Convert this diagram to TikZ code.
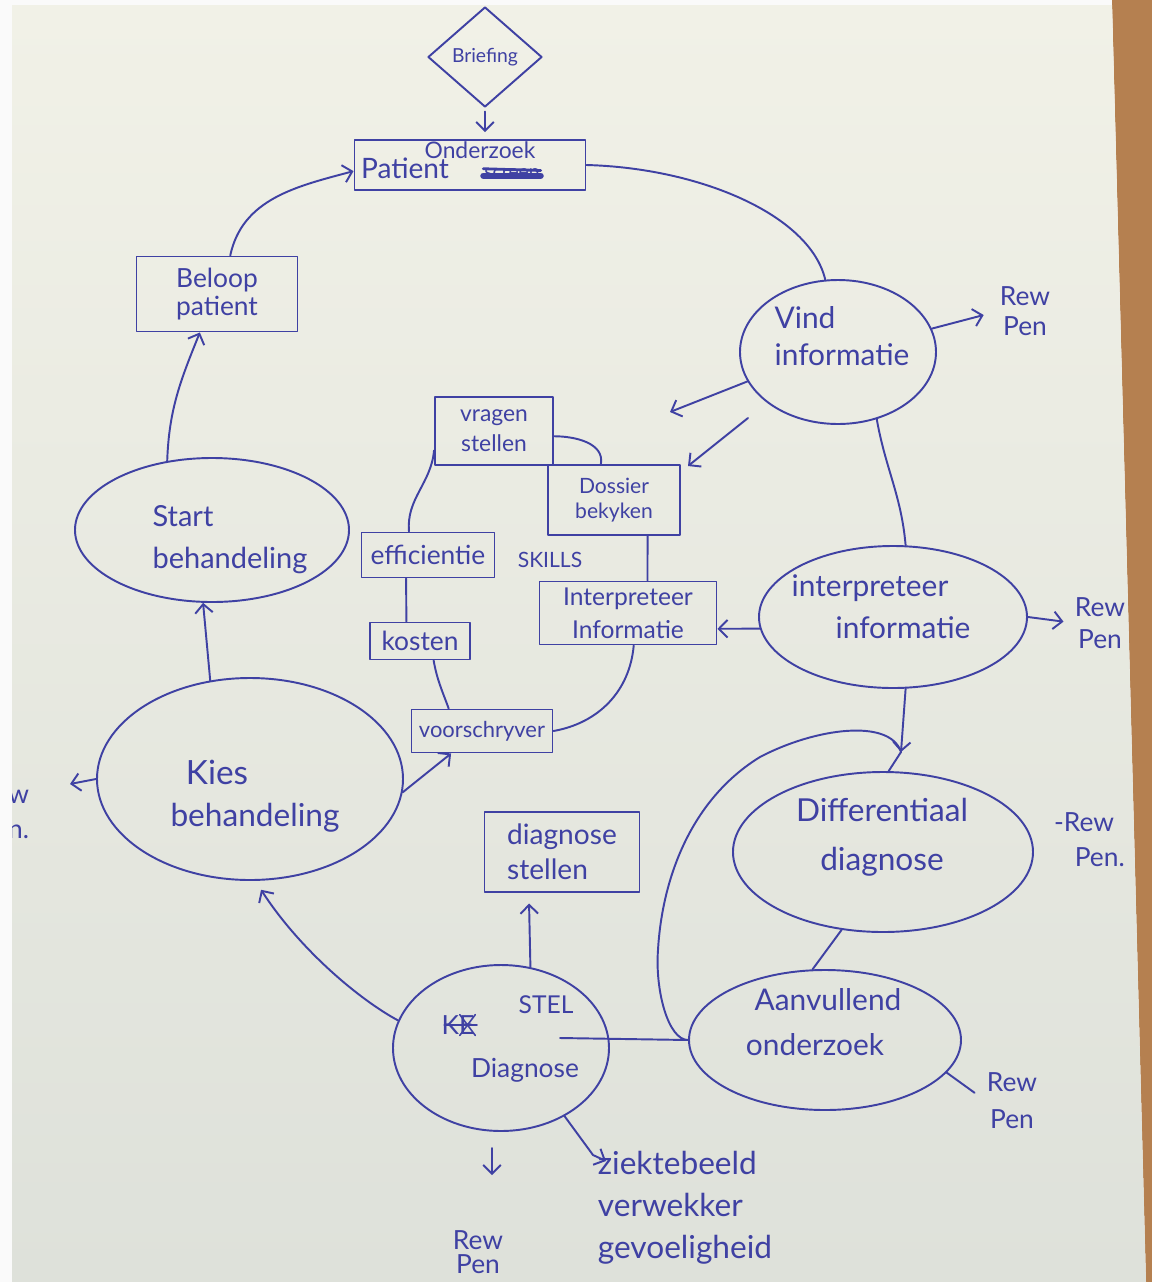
\documentclass[tikz,border=0pt]{standalone}
\usepackage{fontspec}
\setmainfont{Lato}
\usetikzlibrary{shapes.geometric,arrows.meta,calc}
\definecolor{ink}{HTML}{3F41A3}
\definecolor{paperhi}{HTML}{F1F1E7}
\definecolor{paperlo}{HTML}{DEE1DA}
\definecolor{desk}{HTML}{B58050}
\begin{document}
\begin{tikzpicture}[x=0.02cm,y=-0.02cm,
  line width=1.1pt, color=ink, line cap=round, line join=round,
  fs/.style 2 args={font=\fontsize{#1}{#2}\selectfont, text=ink, inner sep=0pt, align=center},
  oval/.style 2 args={ellipse, draw, inner sep=0pt, minimum width=#1*0.02cm, minimum height=#2*0.02cm},
  box/.style 2 args={rectangle, draw, inner sep=0pt, minimum width=#1*0.02cm, minimum height=#2*0.02cm},
  arr/.style={-{Straight Barb[length=5pt,width=10pt]}},
]
\useasboundingbox (0,0) rectangle (1152,1282);
% desk, margin and sheet of paper
\fill[white!96!gray] (0,0) rectangle (1152,1282);
\fill[desk] (1112,0) -- (1152,0) -- (1152,1282) -- (1146,1282) -- cycle;
\shade[top color=paperhi, bottom color=paperlo] (12,5) -- (1112,5) -- (1146,1282) -- (12,1282) -- cycle;
\begin{scope}
\clip (12,5) -- (1112,5) -- (1146,1282) -- (12,1282) -- cycle;

% ---------- outer cycle ----------
\node[diamond, draw, inner sep=0pt, minimum width=114*0.02cm, minimum height=100*0.02cm, fs={11}{13}] (brief) at (485,57) {Briefing};
\node[box={231}{50}] (pat) at (470,165) {};
\node[fs={13}{13}] (pat-up) at (480,150) {Onderzoek};
\node[fs={16}{16}] (pat-t) at (405,168) {Patient};
\node[fs={11}{11}] (scr) at (512,174) {screen};
\draw[line width=3.5pt] ([yshift=-1pt]scr.west) -- ([yshift=-1pt]scr.east);
\draw[line width=1.6pt] ([yshift=3pt]scr.west) -- ([yshift=2pt]scr.east);

\node[box={161}{75}, fs={15}{16}] (bel) at (217,294) {Beloop\\patient};

\node[oval={196}{144}] (vind) at (838,352) {};
\node[fs={17}{21}, align=left] (vind-t) at (842,336) {Vind\\informatie};

\node[oval={268}{142}] (interp) at (893,617) {};
\node[fs={17}{17}] (interp-t1) at (870,588) {interpreteer};
\node[fs={17}{17}] (interp-t2) at (903,628) {informatie};

\node[oval={300}{160}] (diff) at (883,852) {};
\node[fs={18}{28}] (diff-t) at (882,837) {Differentiaal\\diagnose};

\node[oval={272}{140}] (aanv) at (825,1040) {};
\node[fs={17}{17}] (aanv-t1) at (828,1000) {Aanvullend};
\node[fs={17}{17}] (aanv-t2) at (815,1045) {onderzoek};

\node[oval={216}{166}] (diag) at (501,1048) {};
\node[fs={15}{15}] (ke) at (458,1025) {KE};
\draw[line width=0.9pt] ([xshift=1pt]ke.north) -- (ke.south east) (ke.north east) -- ([xshift=1pt]ke.south)
  ([xshift=2pt]ke.west) -- ([xshift=1pt]ke.east);
\node[fs={14}{14}] (stel) at (546,1005) {STEL};
\node[fs={15}{15}] (diag-t) at (525,1070) {Diagnose};

\node[oval={306}{202}] (kies) at (250,779) {};
\node[fs={19}{19}] (kies-t1) at (217,772) {Kies};
\node[fs={18}{18}] (kies-t2) at (255,818) {behandeling};

\node[oval={274}{144}] (start) at (212,530) {};
\node[fs={16.5}{24}, align=left] (start-t) at (230,540) {Start\\behandeling};

% ---------- skills cluster ----------
\node[box={118}{68}, fs={13}{17}] (vr) at (494,431) {vragen\\stellen};
\node[box={132}{70}, fs={12}{14}] (dos) at (614,500) {Dossier\\bekyken};
\node[box={133}{45}, fs={15}{15}] (eff) at (428,555) {efficientie};
\node[fs={12}{12}] (skills) at (550,560) {SKILLS};
\node[box={100}{37}, fs={15}{15}] (kos) at (420,641) {kosten};
\node[box={177}{63}, fs={14}{19}] (ibox) at (628,613) {Interpreteer\\Informatie};
\node[box={141}{43}, fs={12.5}{12.5}] (vs) at (482,731) {voorschryver};
\node[box={155}{80}, fs={16}{20}, align=left] (dstel) at (562,852) {diagnose\\stellen};

% ---------- side notes ----------
\node[fs={15}{17}] (rew1) at (1025,311) {Rew\\Pen};
\node[fs={15}{18}] (rew2) at (1100,623) {Rew\\Pen};
\node[fs={15}{20}] (rew3) at (1084,840) {-Rew\\\hspace*{1.2em}Pen.};
\node[fs={15}{21}] (rew4) at (1012,1101) {Rew\\Pen};
\node[fs={15}{14}] (rew5) at (478,1252) {Rew\\Pen};
\node[fs={15}{20}, align=right, anchor=east] (rew6) at (30,812) {Rew\\Pen.};
\node[fs={18}{24}, align=left] (zb) at (685,1208) {ziektebeeld\\verwekker\\gevoeligheid};

\coordinate (join) at (901,752);
\coordinate (p2s) at (748,418);
\coordinate (p1e) at (670,412);
\coordinate (p2e) at (688,466);
\coordinate (kl) at (70,784);
\coordinate (dn1) at (492,1148);
\coordinate (dn2) at (492,1175);
\coordinate (d-in) at (560,1038);
\coordinate (zb-bend) at (593,1155);
\coordinate (zb-in) at (606,1161);

% ---------- connectors of the cycle ----------
\draw[arr, shorten >=4pt, shorten <=2pt] (brief.south) -- (brief.south |- pat.north);
\draw (pat.east) .. controls (700,168) and (810,215) .. (vind.100);
\draw (vind.-60) to[out=-80,in=95] (interp.80);
\draw[arr] (interp.-80) -- (join);
\draw (join) -- (diff.86);
\draw (diff.-118) -- (aanv.100);
\draw (d-in) -- (aanv.west);
\draw (aanv.west) .. controls (668,1040) and (655,990) .. (658,950)
  .. controls (662,880) and (690,800) .. (760,757)
  .. controls (815,728) and (890,718) .. (join);
\draw[arr, shorten >=6pt] (diag.70) -- (dstel.-129);
\draw[arr, shorten >=6pt] (diag.165) .. controls (360,1000) and (300,950) .. (kies.-87);
\draw[arr] (kies.-5) -- (vs.-144);
\draw[arr] (kies.112) -- (start.-97);
\draw[arr] (start.123) to[out=88,in=-112] (bel.-114);
\draw[arr] (bel.71) to[out=78,in=195] (pat.183);

% pointers into the skills cluster
\draw[arr] (vind.198) -- (p1e);
\draw[arr] (p2s) -- (p2e);
\draw[arr] (interp.185) -- (ibox.-10);

% ---------- skills ring ----------
\draw (eff.129) to[out=95,in=-95] (vr.-162);
\draw (vr.-5) to[out=0,in=80] (dos.110);
\draw (dos.-47) -- (ibox.59);
\draw (ibox.-80) to[out=-95,in=10] (vs.east);
\draw (vs.146) to[out=110,in=-80] (kos.-55);
\draw (kos.125) -- (eff.-133);

% ---------- Rew / Pen notes ----------
\draw[arr, shorten >=9pt] (vind.14) -- (rew1.west);
\draw[arr, shorten >=6pt] (interp.east) -- (rew2.west);
\draw[shorten >=8pt] (aanv.-15) -- (rew4.west);
\draw[arr] (kies.180) -- (kl);
\draw[arr] (dn1) -- (dn2);
\draw[arr] (diag.-47) -- (zb-bend) -- (zb-in);
\end{scope}
\end{tikzpicture}
\end{document}
